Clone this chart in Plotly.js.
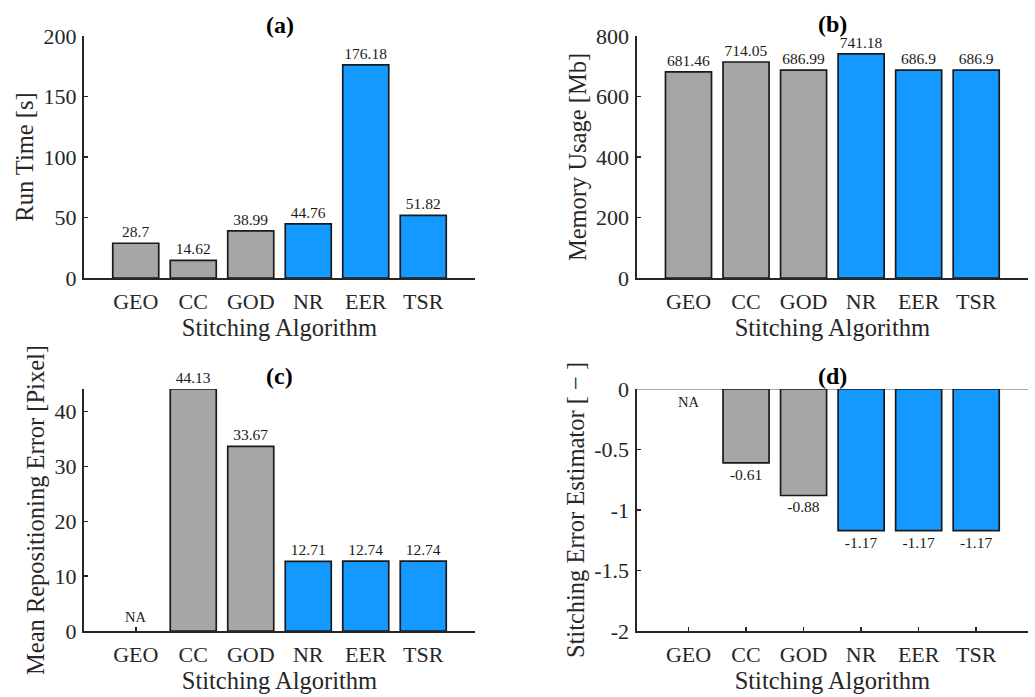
<!DOCTYPE html>
<html>
<head>
<meta charset="utf-8">
<script src="https://cdn.plot.ly/plotly-3.0.1.min.js"></script>
<style>html,body{margin:0;padding:0;background:#fff;}#chart{width:1035px;height:697px;}</style>
</head>
<body>
<div id="chart"></div>
<script>
// ---- data ----
const categories = ['GEO', 'CC', 'GOD', 'NR', 'EER', 'TSR'];
const groups = ['existing', 'existing', 'existing', 'proposed', 'proposed', 'proposed'];
const runTime = [28.7, 14.62, 38.99, 44.76, 176.18, 51.82];
const memoryUsage = [681.46, 714.05, 686.99, 741.18, 686.9, 686.9];
const repositioningError = [null, 44.13, 33.67, 12.71, 12.74, 12.74];
const stitchingErrorEstimator = [null, -0.61, -0.88, -1.17, -1.17, -1.17];
const naLabel = 'NA';
const panelTitles = ['(a)', '(b)', '(c)', '(d)'];
const yTitles = ['Run Time [s]', 'Memory Usage [Mb]', 'Mean Repositioning Error [Pixel]', 'Stitching Error Estimator [ \u2212 ]'];
const xTitle = 'Stitching Algorithm';
const dTickVals = [-2, -1.5, -1, -0.5, 0];
const dTickText = ['-2', '-1.5', '-1', '-0.5', '0'];

// ---- style ----
const FONT = 'Liberation Serif, Times New Roman, serif';
const TXT = '#262626';
const groupColor = {existing: '#a6a6a6', proposed: '#1399ff'};
const colors = groups.map(g => groupColor[g]);

function barTrace(values, xa, ya) {
  return {
    type: 'bar',
    x: categories,
    y: values,
    xaxis: xa, yaxis: ya,
    marker: {color: colors, line: {color: '#1a1a1a', width: 1.7}},
    text: values.map(v => v === null ? '' : String(v)),
    textposition: 'outside',
    textfont: {family: FONT, size: 15.5, color: '#1a1a1a'},
    cliponaxis: false,
    constraintext: 'none',
    hoverinfo: 'x+y',
    showlegend: false
  };
}

const data = [
  barTrace(runTime, 'x', 'y'),
  barTrace(memoryUsage, 'x2', 'y2'),
  barTrace(repositioningError, 'x3', 'y3'),
  barTrace(stitchingErrorEstimator, 'x4', 'y4')
];

const W = 1035, H = 697;
const colL = [84 / W, 475 / W];
const colR = [636.7 / W, 1028 / W];
const rowT = [1 - 278 / H, 1 - 36 / H];
const rowB = [1 - 631 / H, 1 - 389 / H];

function xAxis(domain, anchor) {
  return {
    domain: domain, anchor: anchor,
    type: 'category',
    range: [-0.9, 5.9],
    showline: true, linecolor: TXT, linewidth: 2.2,
    ticks: 'inside', ticklen: 4, tickwidth: 1.5, tickcolor: TXT,
    showgrid: false, zeroline: false,
    tickfont: {family: FONT, size: 22, color: TXT},
    ticklabelstandoff: 2,
    title: {text: xTitle, font: {family: FONT, size: 24.5, color: TXT}, standoff: 4},
    layer: 'below traces',
    fixedrange: true
  };
}
function yAxis(domain, anchor, range, dtick, title, extra) {
  return Object.assign({
    domain: domain, anchor: anchor,
    range: range, dtick: dtick, tick0: 0,
    showline: true, linecolor: TXT, linewidth: 2.2,
    ticks: 'inside', ticklen: 4, tickwidth: 1.5, tickcolor: TXT,
    showgrid: false, zeroline: false,
    tickfont: {family: FONT, size: 22, color: TXT},
    ticklabelstandoff: 1,
    title: {text: title, font: {family: FONT, size: 24.5, color: TXT}, standoff: 3},
    layer: 'below traces',
    fixedrange: true
  }, extra || {});
}

const titleFont = {family: FONT, size: 24, color: '#000'};
const layout = {
  width: W, height: H,
  margin: {l: 0, r: 0, t: 0, b: 0},
  paper_bgcolor: '#ffffff', plot_bgcolor: 'rgba(0,0,0,0)',
  bargap: 0.2,
  font: {family: FONT, color: TXT},
  xaxis: xAxis(colL, 'y'),
  yaxis: yAxis(rowT, 'x', [0, 200], 50, yTitles[0]),
  xaxis2: xAxis(colR, 'y2'),
  yaxis2: yAxis(rowT, 'x2', [0, 800], 200, yTitles[1]),
  xaxis3: xAxis(colL, 'y3'),
  yaxis3: yAxis(rowB, 'x3', [0, Math.max(...repositioningError.filter(v => v !== null))], 10, yTitles[2]),
  xaxis4: xAxis(colR, 'y4'),
  yaxis4: yAxis(rowB, 'x4', [-2, 0], 0.5, yTitles[3], {tickmode: 'array', tickvals: dTickVals, ticktext: dTickText}),
  shapes: [{
    type: 'line', xref: 'x4 domain', yref: 'y4',
    x0: 0, x1: 1, y0: 0, y1: 0,
    line: {color: '#555555', width: 1.2},
    layer: 'below'
  }],
  annotations: [
    {text: '<b>' + panelTitles[0] + '</b>', xref: 'paper', yref: 'paper', x: (colL[0] + colL[1]) / 2, y: 1 - 25 / H, showarrow: false, xanchor: 'center', yanchor: 'middle', font: titleFont},
    {text: '<b>' + panelTitles[1] + '</b>', xref: 'paper', yref: 'paper', x: (colR[0] + colR[1]) / 2, y: 1 - 24 / H, showarrow: false, xanchor: 'center', yanchor: 'middle', font: titleFont},
    {text: '<b>' + panelTitles[2] + '</b>', xref: 'paper', yref: 'paper', x: (colL[0] + colL[1]) / 2, y: 1 - 376 / H, showarrow: false, xanchor: 'center', yanchor: 'middle', font: titleFont},
    {text: '<b>' + panelTitles[3] + '</b>', xref: 'paper', yref: 'paper', x: (colR[0] + colR[1]) / 2, y: 1 - 376 / H, showarrow: false, xanchor: 'center', yanchor: 'middle', font: titleFont},
    {text: naLabel, xref: 'x3', yref: 'y3', x: categories[0], y: 0, showarrow: false, xanchor: 'center', yanchor: 'bottom', yshift: 4, font: {family: FONT, size: 14.5, color: '#1a1a1a'}},
    {text: naLabel, xref: 'x4', yref: 'y4', x: categories[0], y: 0, showarrow: false, xanchor: 'center', yanchor: 'top', yshift: -3, font: {family: FONT, size: 14.5, color: '#1a1a1a'}}
  ]
};

Plotly.newPlot('chart', data, layout, {displayModeBar: false, staticPlot: true});
</script>
</body>
</html>
